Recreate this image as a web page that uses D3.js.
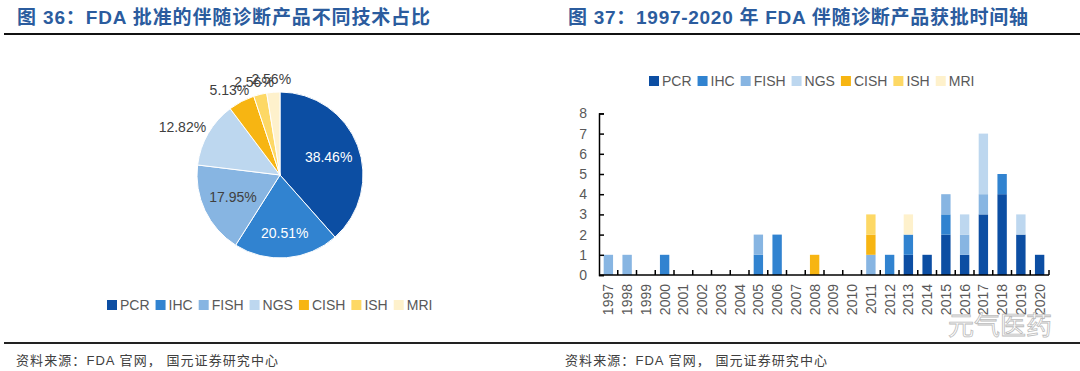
<!DOCTYPE html>
<html>
<head>
<meta charset="utf-8">
<script src="https://cdn.jsdelivr.net/npm/d3@7"></script>
<style>
  body { margin: 0; background: #fff; }
  svg { display: block; font-family: "Liberation Sans", Arial, "Noto Sans CJK SC", sans-serif; }
</style>
</head>
<body>
<div id="chart"></div>
<script>
// Data
const techs = ["PCR", "IHC", "FISH", "NGS", "CISH", "ISH", "MRI"]
const colors = ["#0c4ea3", "#3183d0", "#87b5e2", "#bdd7ef", "#f7b512", "#fdd865", "#fef1cc"]
const pieShares = [38.46, 20.51, 17.95, 12.82, 5.13, 2.56, 2.56]
const years = ["1997","1998","1999","2000","2001","2002","2003","2004","2005","2006","2007","2008",
               "2009","2010","2011","2012","2013","2014","2015","2016","2017","2018","2019","2020"]
const pcr  = [0,0,0,0,0,0,0,0,0,0,0,0,0,0,0,0,1,1,2,1,3,4,2,1]
const ihc  = [0,0,0,1,0,0,0,0,1,2,0,0,0,0,0,1,1,0,1,0,0,1,0,0]
const fish = [1,1,0,0,0,0,0,0,1,0,0,0,0,0,1,0,0,0,1,1,1,0,0,0]
const ngs  = [0,0,0,0,0,0,0,0,0,0,0,0,0,0,0,0,0,0,0,1,3,0,1,0]
const cish = [0,0,0,0,0,0,0,0,0,0,0,1,0,0,1,0,0,0,0,0,0,0,0,0]
const ish  = [0,0,0,0,0,0,0,0,0,0,0,0,0,0,1,0,0,0,0,0,0,0,0,0]
const mri  = [0,0,0,0,0,0,0,0,0,0,0,0,0,0,0,0,1,0,0,0,0,0,0,0]
const yTicks = [0,1,2,3,4,5,6,7,8]

const WIDTH = 1080
const HEIGHT = 371
const titleColor = "#2b5c9e"
const textColor = "#595959"
const cjk = "'Liberation Sans', 'Noto Sans CJK SC', sans-serif"

const svg = d3.select("#chart").append("svg")
    .attr("width", WIDTH)
    .attr("height", HEIGHT)

// Titles, rules and sources
svg.append("text").attr("x", 17).attr("y", 24)
    .style("font-family", cjk)
    .attr("font-size", 19).attr("font-weight", "bold").attr("fill", titleColor)
    .attr("textLength", 413).attr("lengthAdjust", "spacing")
    .text("图 36：FDA 批准的伴随诊断产品不同技术占比")
svg.append("text").attr("x", 568).attr("y", 24)
    .style("font-family", cjk)
    .attr("font-size", 19).attr("font-weight", "bold").attr("fill", titleColor)
    .attr("textLength", 460).attr("lengthAdjust", "spacing")
    .text("图 37：1997-2020 年 FDA 伴随诊断产品获批时间轴")

svg.append("rect").attr("x", 4).attr("y", 33).attr("width", WIDTH - 4).attr("height", 2).attr("fill", "#111")
svg.append("rect").attr("x", 4).attr("y", 342).attr("width", WIDTH - 4).attr("height", 2).attr("fill", "#222")

svg.selectAll(".source")
    .data([16, 565])
    .enter().append("text")
    .attr("x", d => d).attr("y", 365)
    .style("font-family", cjk)
    .attr("font-size", 13).attr("fill", "#404040")
    .attr("textLength", 262).attr("lengthAdjust", "spacing")
    .text("资料来源：FDA 官网， 国元证券研究中心")

// Legend helper
function legend(x0, yc) {
    const g = svg.append("g")
    let x = x0
    techs.forEach((t, i) => {
        g.append("rect").attr("x", x).attr("y", yc - 5).attr("width", 10).attr("height", 10).attr("fill", colors[i])
        const txt = g.append("text").attr("x", x + 13).attr("y", yc + 5)
            .attr("font-size", 14).attr("fill", textColor).text(t)
        x += 13 + txt.node().getComputedTextLength() + 6
    })
}

// ---- Pie chart ----
const cx = 280, cy = 175, R = 83
const pie = d3.pie().sort(null).value(d => d)
const arcs = pie(pieShares)
const arc = d3.arc().innerRadius(0).outerRadius(R)

const pieG = svg.append("g").attr("transform", `translate(${cx},${cy})`)
pieG.selectAll("path")
    .data(arcs)
    .enter().append("path")
    .attr("d", arc)
    .attr("fill", (d, i) => colors[i])
    .attr("stroke", "#fff")
    .attr("stroke-width", 1)

arcs.forEach((d, i) => {
    const a = (d.startAngle + d.endAngle) / 2
    const label = pieShares[i].toFixed(2) + "%"
    const t = pieG.append("text").attr("font-size", 14).text(label)
    if (i < 3) {
        const r = i === 1 ? 58 : 52
        t.attr("x", r * Math.sin(a)).attr("y", -r * Math.cos(a) + 5)
            .attr("text-anchor", "middle")
            .attr("fill", i < 2 ? "#fff" : "#404040")
    } else {
        const w = t.node().getComputedTextLength()
        const px = (R + 6) * Math.sin(a), py = -(R + 6) * Math.cos(a)
        t.attr("x", px + Math.sin(a) * w / 2).attr("y", py - Math.cos(a) * 7 + 5)
            .attr("text-anchor", "middle")
            .attr("fill", "#404040")
    }
})

legend(107, 305)

// ---- Stacked bar chart ----
const series = [pcr, ihc, fish, ngs, cish, ish, mri]
const rows = years.map((y, j) => {
    const row = { year: y }
    techs.forEach((t, k) => { row[t] = series[k][j] })
    return row
})
const stack = d3.stack().keys(techs)(rows)

const x = d3.scaleBand().domain(years).range([599, 1049]).paddingInner(0.5).paddingOuter(0.25)
const y = d3.scaleLinear().domain([0, 8]).range([275, 113.4])

const barG = svg.append("g")
barG.selectAll("g")
    .data(stack)
    .enter().append("g")
    .attr("fill", (d, i) => colors[i])
    .selectAll("rect")
    .data(d => d)
    .enter().append("rect")
    .attr("x", d => x(d.data.year))
    .attr("y", d => y(d[1]))
    .attr("width", x.bandwidth())
    .attr("height", d => y(d[0]) - y(d[1]))

// y axis
const yAxis = svg.append("g")
    .attr("transform", "translate(599,0)")
    .call(d3.axisLeft(y).tickValues(yTicks).tickSize(-5).tickPadding(12).tickFormat(d3.format("d")))
yAxis.select(".domain").attr("stroke", "#000").attr("stroke-width", 1.5)
yAxis.selectAll(".tick line").attr("stroke", "#000").attr("stroke-width", 1.5)
yAxis.selectAll(".tick text").attr("font-size", 14).attr("fill", textColor)
    .style("font-family", "'Liberation Sans', Arial, sans-serif")

// x axis: line with ticks at band boundaries
const step = x.step()
const boundaries = d3.range(1, years.length + 1).map(i => 599 + i * step)
svg.append("line").attr("x1", 599).attr("x2", 1049).attr("y1", 275).attr("y2", 275)
    .attr("stroke", "#000").attr("stroke-width", 1.5)
svg.append("g").selectAll("line")
    .data(boundaries)
    .enter().append("line")
    .attr("x1", d => d).attr("x2", d => d)
    .attr("y1", 275).attr("y2", 270)
    .attr("stroke", "#000").attr("stroke-width", 1.5)

svg.append("g").selectAll("text")
    .data(years)
    .enter().append("text")
    .attr("transform", d => `translate(${x(d) + x.bandwidth() / 2 + 5},284) rotate(-90)`)
    .attr("text-anchor", "end")
    .attr("font-size", 14)
    .attr("fill", textColor)
    .text(d => d)

legend(649, 81)

// watermark
svg.append("text").attr("x", 948).attr("y", 335)
    .style("font-family", "'Noto Sans CJK SC', sans-serif")
    .attr("font-size", 26).attr("fill", "none").attr("stroke", "#bbb").attr("stroke-width", 0.8)
    .text("元气医药")
</script>
</body>
</html>
